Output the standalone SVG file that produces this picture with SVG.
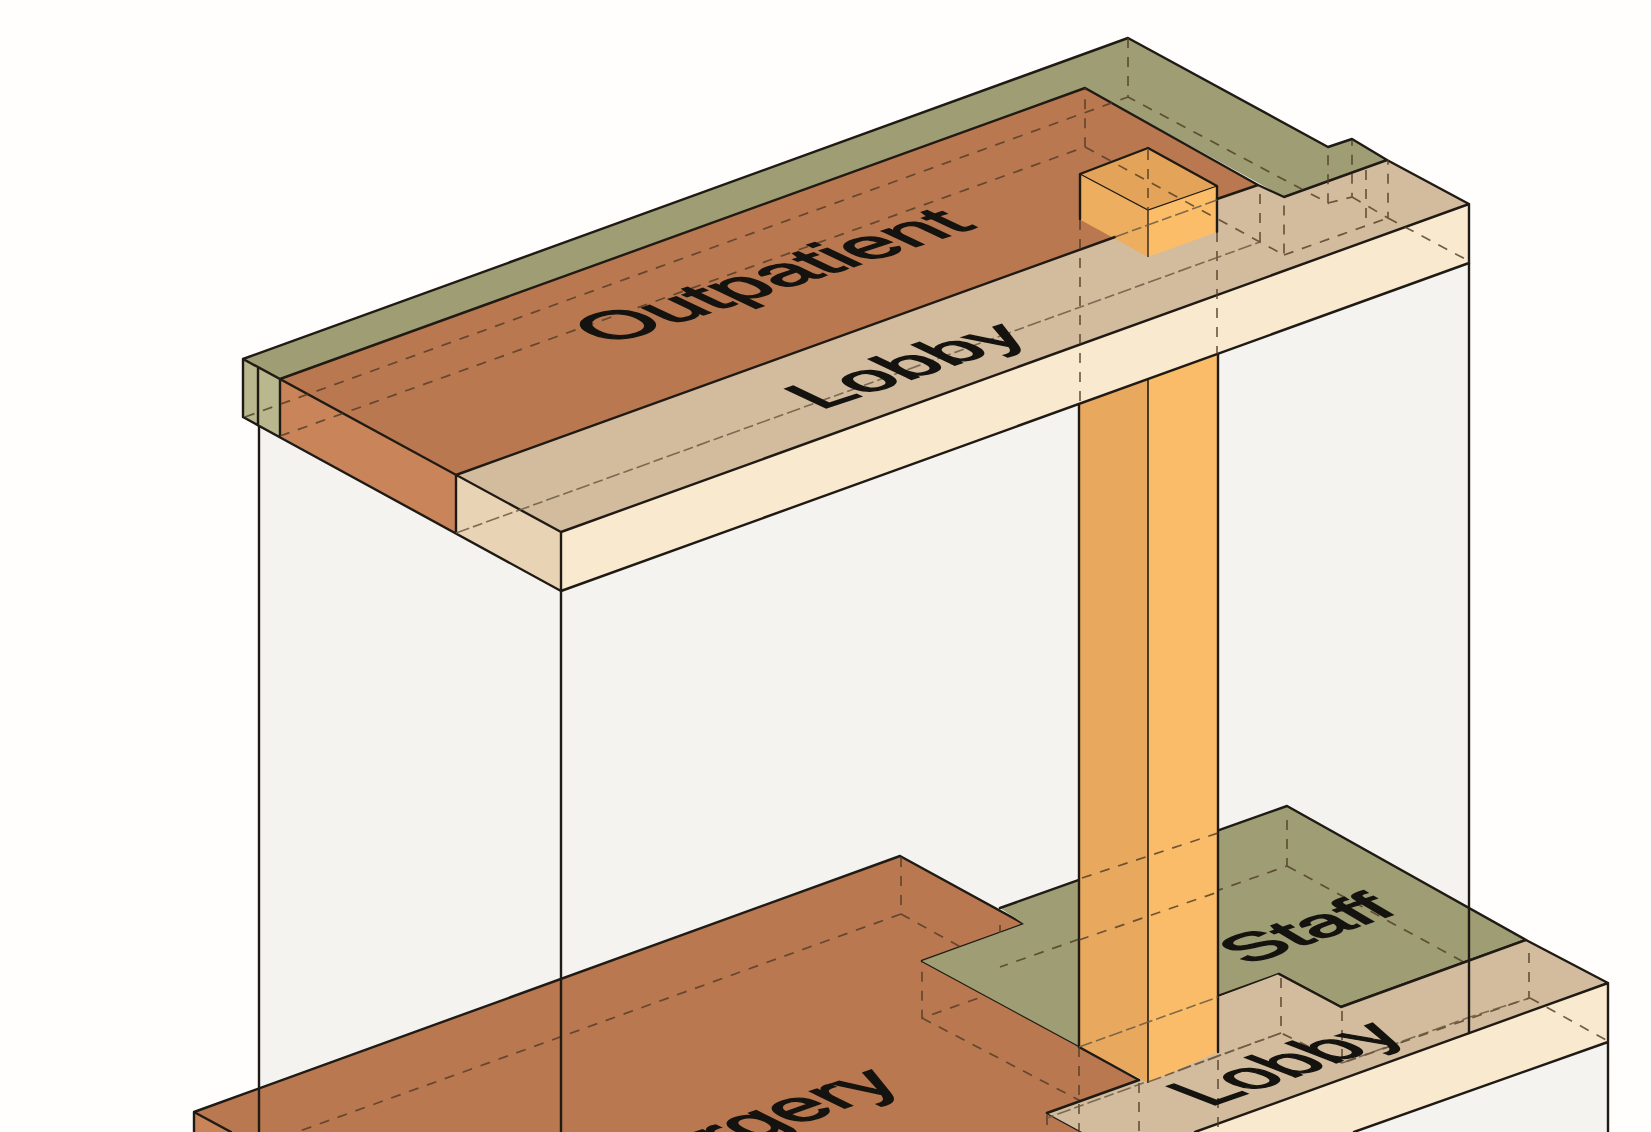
<svg xmlns="http://www.w3.org/2000/svg" width="1651" height="1132" viewBox="0 0 1651 1132">
<style>
.e{fill:none;stroke:#1f1a14;stroke-width:2.4;stroke-linejoin:round;stroke-linecap:round}
.t{fill:none;stroke:#1f1a14;stroke-width:1.3}
.d{fill:none;stroke:#4f3b26;stroke-width:1.7;stroke-dasharray:10 9;opacity:.8}
.c{fill:none;stroke:#6b5a44;stroke-width:1.6;stroke-dasharray:14 4 10 4;opacity:.85}
.l{font-family:"Liberation Sans",Arial,sans-serif;fill:#15130f;stroke:#15130f;stroke-width:2.2}
</style>
<rect width="1651" height="1132" fill="#fffefc"/>
<g id="glass-volume">
<polygon points="259,425 561,591 1469,263 1469,1040 1200,1132 259,1132" fill="#f4f3f0"/>
<polygon points="1354,1132 1608,1042 1608,1132" fill="#f4f3f0"/>
</g>
<g id="ground-surgery">
<polygon points="194,1112 900,856 1024,924 922,961 1079,1046 1139,1080 1047,1113 1082,1132 231,1132" fill="#b9784f"/>
<polygon points="194,1112 231,1132 194,1132" fill="#c98459"/>
<path class="e" d="M194,1132V1112L900,856 1024,924 922,961 1079,1046M1047,1113 1082,1132M194,1112 231,1132"/>
<path class="d" d="M901,857V914L297,1132M901,914 1024,982 922,1018V962M1000,925V967M1024,925V982M922,1018 1140,1132"/>
<text class="l" font-size="72" transform="matrix(1.1 -.39 .9 .44 628 1185)">Surgery</text>
</g>
<g id="ground-staff">
<polygon points="1000,908 1287,806 1526,940 1341,1007 1279,974 1218,997 1079,1046 922,961 1024,924" fill="#9e9d74"/>
<path class="e" d="M1000,908 1287,806 1526,940 1341,1007 1279,974 1079,1046"/>
<path class="d" d="M1287,820V866L1000,967M1287,866 1530,998"/>
<text class="l" font-size="60" transform="matrix(1.25 -.43 .85 .5 1247 965)">Staff</text>
</g>
<g id="ground-lobby">
<polygon points="1047,1113 1139,1080 1218,1052 1218,997 1279,974 1341,1007 1526,940 1608,983 1195,1132 1082,1132" fill="#d3bc9e"/>
<polygon points="1608,983 1608,1042 1354,1132 1195,1132" fill="#f9e9cf"/>
<path class="e" d="M1047,1113 1139,1080M1279,974 1341,1007 1526,940 1608,983 1195,1132M1608,983V1132M1608,1042 1354,1132"/>
<path class="d" d="M1529,953V998L1342,1063V1010M1281,978V1033L1342,1063M1530,998 1606,1040M1079,1047V1132M1139,1083V1132M1218,1060V1132M1047,1115V1132"/>
<path class="c" d="M1281,1033 1047,1118M1342,1063 1470,1017 1530,998"/>
</g>
<g id="column">
<polygon points="1079,404 1079,1047 1148,1083 1148,379" fill="#e8a95f"/>
<polygon points="1148,379 1218,354 1218,1052 1148,1083" fill="#fabc69"/>
<path class="e" d="M1079,404V1047L1139,1080M1218,354V1052"/>
<path class="t" d="M1148,257V1083" style="stroke-width:1.6"/>
<path class="d" d="M1082,878 1218,833M1079,940 1218,892"/>
<path class="c" d="M1079,1047 1218,997M1148,1082 1281,1033"/>
</g>
<g id="glass-edges">
<path class="e" d="M259,425V1132M561,591V1132M1469,263V1033"/>
</g>
<g id="upper-staff">
<polygon points="243,359 1128,38 1328,147 1352,139 1387,160 1284,197 1085,88 280,379" fill="#9e9d74"/>
<polygon points="243,359 280,379 280,436 243,417" fill="#b8b78e"/>
</g>
<g id="upper-outpatient">
<polygon points="280,379 1085,88 1258,185 456,475" fill="#b9784f"/>
<polygon points="280,379 456,475 456,533 280,436" fill="#c98459"/>
</g>
<g id="upper-lobby">
<polygon points="456,475 1258,185 1284,197 1387,160 1469,204 561,532" fill="#d3bc9e"/>
<polygon points="561,532 1469,204 1469,263 561,591" fill="#f9e9cf"/>
<polygon points="456,475 561,532 561,591 456,533" fill="#e9d3b5"/>
</g>
<g id="column-top">
<polygon points="1080,174 1148,148 1217,186 1148,210" fill="#e3a45a"/>
<polygon points="1080,174 1148,210 1148,257 1079,219" fill="#eeae60"/>
<polygon points="1148,210 1217,186 1217,232 1148,257" fill="#fcbd68"/>
<path class="e" d="M1080,219V174L1148,148 1217,186V232"/>
<path class="t" d="M1080,174 1148,210 1217,186M1148,210V257"/>
<path class="d" d="M1148,150V210"/>
</g>
<g id="upper-edges">
<path class="e" d="M243,417V359L1128,38 1328,147 1352,139 1387,160 1469,204V263M243,359 561,532V591L1469,263M243,417 561,591M258,368V425M280,379V436M456,475V533M280,379 1085,88 1258,185 1284,197 1387,160M561,532 1469,204M456,475 1115,237M1217,199 1258,185"/>
<path class="d" d="M245,417 1128,97M1128,38V97L1328,203V147M1328,203 1352,197V140M1352,197 1388,218V160M1388,218 1467,260M280,436 1085,147V88M1085,147 1284,255V197M1260,242V185M1366,170V225M1284,255 1388,218M1080,220V404M1217,232V354"/>
<path class="c" d="M456,533 1260,242M1115,237 1217,200"/>
<text class="l" font-size="70" transform="matrix(1.14 -.365 .91 .43 609 345)">Outpatient</text>
<text class="l" font-size="65" transform="matrix(1.2 -.4 .91 .43 820 410)">Lobby</text>
<text class="l" font-size="75" transform="matrix(.98 -.34 .93 .36 1209 1107)">Lobby</text>
</g>
</svg>
